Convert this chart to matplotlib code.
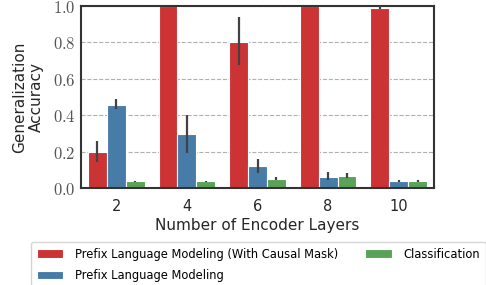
import numpy as np
import matplotlib
matplotlib.use("Agg")
import matplotlib.pyplot as plt
from matplotlib.ticker import FuncFormatter

# data
layers = ["2", "4", "6", "8", "10"]
series = ["Prefix Language Modeling (With Causal Mask)",
          "Prefix Language Modeling",
          "Classification"]
causal_mean = [0.196, 1.0, 0.804, 1.0, 0.987]
causal_lo = [0.143, 1.0, 0.678, 1.0, 0.985]
causal_hi = [0.256, 1.0, 0.940, 1.0, 1.0]
prefix_mean = [0.458, 0.295, 0.121, 0.062, 0.037]
prefix_lo = [0.432, 0.190, 0.082, 0.042, 0.033]
prefix_hi = [0.489, 0.403, 0.161, 0.090, 0.042]
cls_mean = [0.037, 0.037, 0.051, 0.066, 0.037]
cls_lo = [0.034, 0.034, 0.042, 0.053, 0.033]
cls_hi = [0.041, 0.041, 0.062, 0.084, 0.042]

colors = ["#cb3335", "#477ca8", "#59a257"]

plt.rcParams["mathtext.fontset"] = "cm"
plt.rcParams["font.family"] = "DejaVu Sans"

fig = plt.figure(figsize=(4.86, 2.85), dpi=100)
ax = fig.add_axes([81 / 486, 1 - 188 / 285, (434 - 81) / 486, (188 - 6) / 285])

x = np.arange(len(layers))
width = 0.8 / 3
means = [causal_mean, prefix_mean, cls_mean]
los = [causal_lo, prefix_lo, cls_lo]
his = [causal_hi, prefix_hi, cls_hi]
for i in range(3):
    pos = x + (i - 1) * width
    m = np.array(means[i])
    ax.bar(pos, m, width, color=colors[i], edgecolor="white", linewidth=0.8,
           label=series[i], zorder=2)
    ax.vlines(pos, los[i], his[i], color="#424242", lw=1.6, zorder=3)

ax.set_xlim(-0.5, len(layers) - 0.5)
ax.set_ylim(0, 1.0)
ax.set_xticks(x)
ax.set_xticklabels(layers, fontsize=10.5, color="#262626")
ax.set_yticks(np.arange(0, 1.01, 0.2))
ax.yaxis.set_major_formatter(FuncFormatter(lambda v, p: r"$%.1f$" % v))
ax.tick_params(axis="y", labelsize=12, labelcolor="#555555", length=0, pad=4)
ax.tick_params(axis="x", length=0, pad=8)
ax.yaxis.grid(True, linestyle="--", color="#b0b0b0", lw=0.8, zorder=0)
ax.set_axisbelow(True)
for s in ax.spines.values():
    s.set_color("#333333")
    s.set_linewidth(1.5)

ax.set_xlabel("Number of Encoder Layers", fontsize=11, color="#262626", labelpad=3)
ax.set_ylabel("Generalization\nAccuracy", fontsize=11, color="#262626", labelpad=6)

fig.legend(loc="upper left", bbox_to_anchor=(25 / 486, 1 - 236 / 285),
           ncol=2, fontsize=8.3, frameon=True, edgecolor="#cccccc",
           handlelength=2.3, handleheight=0.7, handletextpad=1.0,
           columnspacing=2.4, borderpad=0.5, labelspacing=0.75)

plt.savefig("out.png", dpi=100)
